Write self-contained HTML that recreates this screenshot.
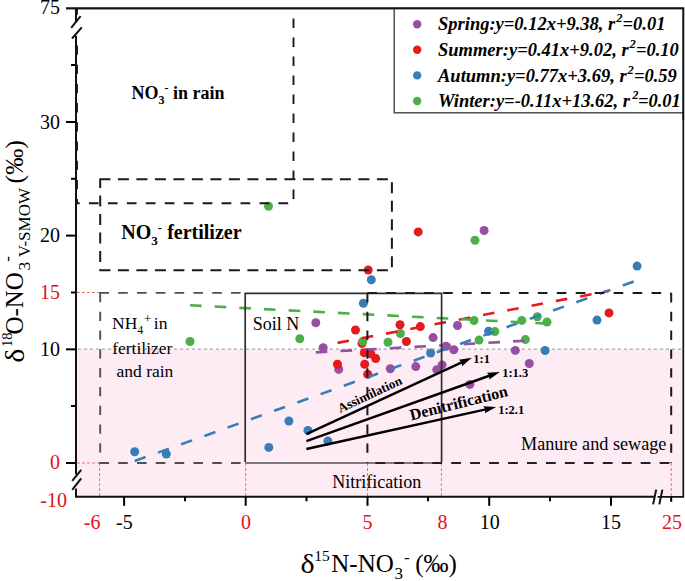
<!DOCTYPE html>
<html><head><meta charset="utf-8"><style>
html,body{margin:0;padding:0;background:#fff;}
svg{display:block;}
</style></head><body>
<svg width="685" height="581" viewBox="0 0 685 581">
<rect x="77" y="349.5" width="606" height="147" fill="#FDECF4"/>
<line x1="77" y1="349.1" x2="683" y2="349.1" stroke="#a8a8a8" stroke-width="1.3" stroke-dasharray="3.2 2.8" stroke-dashoffset="-0.8"/>
<line x1="77" y1="292.5" x2="100" y2="292.5" stroke="#F07070" stroke-width="1" stroke-dasharray="3 2"/>
<line x1="77" y1="463" x2="100" y2="463" stroke="#F07070" stroke-width="1" stroke-dasharray="3 2"/>
<line x1="99.6" y1="463" x2="99.6" y2="496" stroke="#F07070" stroke-width="1" stroke-dasharray="3 2"/>
<line x1="245.7" y1="463" x2="245.7" y2="496" stroke="#F07070" stroke-width="1" stroke-dasharray="3 2"/>
<line x1="367.5" y1="463" x2="367.5" y2="496" stroke="#F07070" stroke-width="1" stroke-dasharray="3 2"/>
<line x1="441.4" y1="463" x2="441.4" y2="496" stroke="#F07070" stroke-width="1" stroke-dasharray="3 2"/>
<line x1="671.2" y1="463" x2="671.2" y2="496" stroke="#F07070" stroke-width="1" stroke-dasharray="3 2"/>
<circle cx="315.8" cy="322.7" r="4.5" fill="#984EA3"/><circle cx="323.2" cy="347.7" r="4.5" fill="#984EA3"/><circle cx="338.7" cy="369.4" r="4.5" fill="#984EA3"/><circle cx="390.3" cy="368.8" r="4.5" fill="#984EA3"/><circle cx="415.8" cy="366.6" r="4.5" fill="#984EA3"/><circle cx="433.1" cy="337.6" r="4.5" fill="#984EA3"/><circle cx="436.8" cy="369.8" r="4.5" fill="#984EA3"/><circle cx="442.1" cy="364.9" r="4.5" fill="#984EA3"/><circle cx="446" cy="346.3" r="4.5" fill="#984EA3"/><circle cx="453.8" cy="349.8" r="4.5" fill="#984EA3"/><circle cx="457.5" cy="325.5" r="4.5" fill="#984EA3"/><circle cx="469.9" cy="384.4" r="4.5" fill="#984EA3"/><circle cx="484.1" cy="230.5" r="4.5" fill="#984EA3"/><circle cx="515.3" cy="350.4" r="4.5" fill="#984EA3"/><circle cx="529.3" cy="363.5" r="4.5" fill="#984EA3"/>
<circle cx="337.5" cy="364.2" r="4.5" fill="#E41A1C"/><circle cx="355.5" cy="330" r="4.5" fill="#E41A1C"/><circle cx="362" cy="343.4" r="4.5" fill="#E41A1C"/><circle cx="364.3" cy="352.8" r="4.5" fill="#E41A1C"/><circle cx="364.7" cy="364.3" r="4.5" fill="#E41A1C"/><circle cx="367.7" cy="374.2" r="4.5" fill="#E41A1C"/><circle cx="368.2" cy="270" r="4.5" fill="#E41A1C"/><circle cx="370.8" cy="353.8" r="4.5" fill="#E41A1C"/><circle cx="375.7" cy="358.6" r="4.5" fill="#E41A1C"/><circle cx="400" cy="324.7" r="4.5" fill="#E41A1C"/><circle cx="406.4" cy="341.5" r="4.5" fill="#E41A1C"/><circle cx="418.2" cy="231.9" r="4.5" fill="#E41A1C"/><circle cx="420.3" cy="326.6" r="4.5" fill="#E41A1C"/><circle cx="609" cy="312.9" r="4.5" fill="#E41A1C"/>
<circle cx="134.7" cy="451.8" r="4.5" fill="#377EB8"/><circle cx="166.3" cy="454" r="4.5" fill="#377EB8"/><circle cx="268.8" cy="447.4" r="4.5" fill="#377EB8"/><circle cx="288.9" cy="421" r="4.5" fill="#377EB8"/><circle cx="307.9" cy="430.4" r="4.5" fill="#377EB8"/><circle cx="327.9" cy="441.1" r="4.5" fill="#377EB8"/><circle cx="363.4" cy="303.2" r="4.5" fill="#377EB8"/><circle cx="371.3" cy="279.8" r="4.5" fill="#377EB8"/><circle cx="430.6" cy="353" r="4.5" fill="#377EB8"/><circle cx="488.6" cy="331.2" r="4.5" fill="#377EB8"/><circle cx="545.1" cy="350.5" r="4.5" fill="#377EB8"/><circle cx="597" cy="320.1" r="4.5" fill="#377EB8"/><circle cx="637.1" cy="266.1" r="4.5" fill="#377EB8"/>
<circle cx="190" cy="341.5" r="4.5" fill="#4DAF4A"/><circle cx="268.5" cy="206.3" r="4.5" fill="#4DAF4A"/><circle cx="299.8" cy="338.8" r="4.5" fill="#4DAF4A"/><circle cx="362.8" cy="341.2" r="4.5" fill="#4DAF4A"/><circle cx="388" cy="342.2" r="4.5" fill="#4DAF4A"/><circle cx="400.4" cy="333.5" r="4.5" fill="#4DAF4A"/><circle cx="474" cy="320.5" r="4.5" fill="#4DAF4A"/><circle cx="475" cy="240.3" r="4.5" fill="#4DAF4A"/><circle cx="479" cy="340.1" r="4.5" fill="#4DAF4A"/><circle cx="494.9" cy="331.6" r="4.5" fill="#4DAF4A"/><circle cx="521.8" cy="320.4" r="4.5" fill="#4DAF4A"/><circle cx="525.4" cy="339.6" r="4.5" fill="#4DAF4A"/><circle cx="537.3" cy="316.8" r="4.5" fill="#4DAF4A"/><circle cx="547" cy="322" r="4.5" fill="#4DAF4A"/>
<line x1="315.8" y1="352.4" x2="529.3" y2="340.5" stroke="#984EA3" stroke-width="2.6" stroke-dasharray="11.6 13.1"/>
<line x1="337.5" y1="342.9" x2="609.0" y2="290.9" stroke="#E41A1C" stroke-width="2.6" stroke-dasharray="11.6 13.1"/>
<line x1="134.7" y1="461.0" x2="637.1" y2="280.3" stroke="#377EB8" stroke-width="2.6" stroke-dasharray="11.6 13.1"/>
<line x1="190.0" y1="305.3" x2="547.0" y2="323.6" stroke="#4DAF4A" stroke-width="2.6" stroke-dasharray="11.6 13.1"/>
<line x1="77" y1="8.5" x2="77" y2="203.3" stroke="#1a1a1a" stroke-width="1.9" stroke-dasharray="9.3 9.9" stroke-dashoffset="1.4"/>
<line x1="76" y1="203.3" x2="293.5" y2="203.3" stroke="#1a1a1a" stroke-width="1.9" stroke-dasharray="9.7 9.25" stroke-dashoffset="6"/>
<line x1="293.5" y1="8.5" x2="293.5" y2="203.3" stroke="#1a1a1a" stroke-width="1.9" stroke-dasharray="9.7 9.3" stroke-dashoffset="9.1"/>
<line x1="99.4" y1="179.2" x2="392" y2="179.2" stroke="#1a1a1a" stroke-width="2" stroke-dasharray="11 7.5" stroke-dashoffset="0"/>
<line x1="99.4" y1="270.2" x2="392" y2="270.2" stroke="#1a1a1a" stroke-width="2" stroke-dasharray="11 7.5" stroke-dashoffset="0"/>
<line x1="100.2" y1="179.2" x2="100.2" y2="270.2" stroke="#1a1a1a" stroke-width="2" stroke-dasharray="11 7.5" stroke-dashoffset="2.3"/>
<line x1="391.9" y1="179.2" x2="391.9" y2="270.2" stroke="#1a1a1a" stroke-width="2" stroke-dasharray="11 7.5" stroke-dashoffset="15.4"/>
<line x1="99.4" y1="292.9" x2="245" y2="292.9" stroke="#505050" stroke-width="1.9" stroke-dasharray="9.6 9.2" stroke-dashoffset="0"/>
<line x1="99.4" y1="463" x2="245" y2="463" stroke="#505050" stroke-width="1.9" stroke-dasharray="9.6 9.2" stroke-dashoffset="0"/>
<line x1="100.2" y1="292.9" x2="100.2" y2="463" stroke="#505050" stroke-width="1.9" stroke-dasharray="9.3 9.5" stroke-dashoffset="0"/>
<path d="M245.2 462 V293.3 H441.6 V462" fill="none" stroke="#2e2e2e" stroke-width="1.7"/>
<line x1="245.2" y1="463" x2="441.6" y2="463" stroke="#555" stroke-width="1.7"/>
<line x1="367.3" y1="293" x2="671.2" y2="293" stroke="#1a1a1a" stroke-width="2" stroke-dasharray="9.6 9.35" stroke-dashoffset="0"/>
<line x1="367.3" y1="463" x2="671.2" y2="463" stroke="#222" stroke-width="2" stroke-dasharray="9.8 9.15" stroke-dashoffset="-8.1"/>
<line x1="367.4" y1="293" x2="367.4" y2="463" stroke="#1a1a1a" stroke-width="2" stroke-dasharray="9.4 9.4" stroke-dashoffset="0"/>
<line x1="671.2" y1="293" x2="671.2" y2="463" stroke="#1a1a1a" stroke-width="2" stroke-dasharray="9.4 9.4" stroke-dashoffset="0"/>
<line x1="306.4" y1="434.2" x2="462.3" y2="362.2" stroke="#000" stroke-width="2.4"/><polygon points="471.8,357.8 462.0,366.3 461.8,362.4 458.9,359.8" fill="#000"/>
<line x1="306.4" y1="441.2" x2="490.0" y2="375.5" stroke="#000" stroke-width="2.4"/><polygon points="499.9,372 489.3,379.6 489.5,375.7 486.9,372.8" fill="#000"/>
<line x1="306.4" y1="449" x2="485.9" y2="409.3" stroke="#000" stroke-width="2.4"/><polygon points="496.2,407 484.8,413.2 485.5,409.4 483.2,406.2" fill="#000"/>
<polygon points="66,28.8 80.6,11 90,11 90,27.3 72,44 66,44" fill="#fff"/>
<polygon points="66,481.8 77,468.3 77,478 66,491" fill="#fff"/>
<polygon points="654,499 656,494 662,494 660,499" fill="#fff"/>
<path d="M66 8.4 H683.3 V496.8 H657.5" fill="none" stroke="#111" stroke-width="1.7"/>
<path d="M654.7 496.8 H76 V488.5" fill="none" stroke="#111" stroke-width="2"/>
<path d="M76 474.5 V35.8" fill="none" stroke="#111" stroke-width="2"/>
<path d="M76 8.4 V22" fill="none" stroke="#111" stroke-width="2"/>
<line x1="71.2" y1="27.8" x2="80.6" y2="16.2" stroke="#111" stroke-width="2"/>
<line x1="72" y1="38.5" x2="81.8" y2="27.3" stroke="#111" stroke-width="2"/>
<line x1="72.2" y1="480.8" x2="81.2" y2="469.8" stroke="#111" stroke-width="2"/>
<line x1="72.2" y1="489.8" x2="81.2" y2="478.4" stroke="#111" stroke-width="2"/>
<line x1="653.1" y1="504.4" x2="656.2" y2="489.6" stroke="#111" stroke-width="2"/>
<line x1="659.3" y1="504.4" x2="662.4" y2="489.6" stroke="#111" stroke-width="2"/>
<line x1="66" y1="463" x2="76" y2="463" stroke="#000" stroke-width="2"/>
<line x1="66" y1="349.35" x2="76" y2="349.35" stroke="#000" stroke-width="2"/>
<line x1="66" y1="235.6" x2="76" y2="235.6" stroke="#000" stroke-width="2"/>
<line x1="66" y1="122" x2="76" y2="122" stroke="#000" stroke-width="2"/>
<line x1="71" y1="292.5" x2="76" y2="292.5" stroke="#000" stroke-width="2"/>
<line x1="71" y1="178.8" x2="76" y2="178.8" stroke="#000" stroke-width="2"/>
<line x1="71" y1="65" x2="76" y2="65" stroke="#000" stroke-width="2"/>
<line x1="71" y1="406" x2="76" y2="406" stroke="#000" stroke-width="2"/>
<line x1="124.1" y1="496.8" x2="124.1" y2="505.8" stroke="#000" stroke-width="2"/>
<line x1="245.7" y1="496.8" x2="245.7" y2="505.8" stroke="#000" stroke-width="2"/>
<line x1="367.5" y1="496.8" x2="367.5" y2="505.8" stroke="#000" stroke-width="2"/>
<line x1="489.2" y1="496.8" x2="489.2" y2="505.8" stroke="#000" stroke-width="2"/>
<line x1="611" y1="496.8" x2="611" y2="505.8" stroke="#000" stroke-width="2"/>
<line x1="185" y1="496.8" x2="185" y2="501.3" stroke="#000" stroke-width="2"/>
<line x1="306.5" y1="496.8" x2="306.5" y2="501.3" stroke="#000" stroke-width="2"/>
<line x1="428" y1="496.8" x2="428" y2="501.3" stroke="#000" stroke-width="2"/>
<line x1="550" y1="496.8" x2="550" y2="501.3" stroke="#000" stroke-width="2"/>
<line x1="671.2" y1="496.8" x2="671.2" y2="501.8" stroke="#000" stroke-width="2"/>
<text x="60" y="14.4" font-family="Liberation Serif, serif" font-size="20" text-anchor="end" fill="#000">75</text>
<text x="60" y="128.8" font-family="Liberation Serif, serif" font-size="20" text-anchor="end" fill="#000">30</text>
<text x="60" y="242.3" font-family="Liberation Serif, serif" font-size="20" text-anchor="end" fill="#000">20</text>
<text x="60" y="298.8" font-family="Liberation Serif, serif" font-size="20" text-anchor="end" fill="#E5101A">15</text>
<text x="60" y="356.1" font-family="Liberation Serif, serif" font-size="20" text-anchor="end" fill="#000">10</text>
<text x="60" y="469.3" font-family="Liberation Serif, serif" font-size="20" text-anchor="end" fill="#E5101A">0</text>
<text x="67" y="506.5" font-family="Liberation Serif, serif" font-size="20" text-anchor="end" fill="#E5101A">-10</text>
<text x="92.2" y="529.2" font-family="Liberation Serif, serif" font-size="20" text-anchor="middle" fill="#E5101A">-6</text>
<text x="124.4" y="529.2" font-family="Liberation Serif, serif" font-size="20" text-anchor="middle" fill="#000">-5</text>
<text x="245.9" y="529.2" font-family="Liberation Serif, serif" font-size="20" text-anchor="middle" fill="#E5101A">0</text>
<text x="367.6" y="529.2" font-family="Liberation Serif, serif" font-size="20" text-anchor="middle" fill="#E5101A">5</text>
<text x="442.5" y="529.2" font-family="Liberation Serif, serif" font-size="20" text-anchor="middle" fill="#E5101A">8</text>
<text x="489.8" y="529.2" font-family="Liberation Serif, serif" font-size="20" text-anchor="middle" fill="#000">10</text>
<text x="611" y="529.2" font-family="Liberation Serif, serif" font-size="20" text-anchor="middle" fill="#000">15</text>
<text x="672" y="529.2" font-family="Liberation Serif, serif" font-size="20" text-anchor="middle" fill="#E5101A">25</text>
<text x="131.5" y="98.6" font-family="Liberation Serif, serif" font-size="18" font-weight="bold">NO<tspan font-size="12" dy="5">3</tspan><tspan font-size="12" dy="-12">-</tspan><tspan dy="7" font-size="18"> in rain</tspan></text>
<text x="121.3" y="239.2" font-family="Liberation Serif, serif" font-size="20" font-weight="bold">NO<tspan font-size="13" dy="5.5">3</tspan><tspan font-size="13" dy="-13">-</tspan><tspan dy="7.5" font-size="20"> fertilizer</tspan></text>
<text x="112" y="329.3" font-family="Liberation Serif, serif" font-size="17.5">NH<tspan font-size="12" dy="5">4</tspan><tspan font-size="13.5" dx="0.5" dy="-11">+</tspan><tspan dx="-2" dy="6" font-size="17.5"> in</tspan></text>
<text x="112.2" y="354.3" font-family="Liberation Serif, serif" font-size="17.5">fertilizer</text>
<text x="116.5" y="376.6" font-family="Liberation Serif, serif" font-size="17.5">and rain</text>
<text x="252.8" y="329.5" font-family="Liberation Serif, serif" font-size="18">Soil N</text>
<text x="332.3" y="488" font-family="Liberation Serif, serif" font-size="18">Nitrification</text>
<text x="521" y="450.2" font-family="Liberation Serif, serif" font-size="18.2">Manure and sewage</text>
<text x="473.3" y="362.8" font-family="Liberation Serif, serif" font-weight="bold" font-size="12.5">1:1</text>
<text x="502.2" y="377.1" font-family="Liberation Serif, serif" font-weight="bold" font-size="12.5">1:1.3</text>
<text x="498.2" y="413.6" font-family="Liberation Serif, serif" font-weight="bold" font-size="12.5">1:2.1</text>
<text transform="translate(340.2,413) rotate(-25.1)" font-family="Liberation Serif, serif" font-weight="bold" font-size="13">Assimilation</text>
<text transform="translate(411.3,420.4) rotate(-14.1)" font-family="Liberation Serif, serif" font-weight="bold" font-size="16">Denitrification</text>
<rect x="394.2" y="8.5" width="289" height="104.3" fill="#fff" stroke="#444" stroke-width="1.4"/>
<circle cx="417.2" cy="24.2" r="4.2" fill="#984EA3"/>
<text x="438" y="30.4" font-family="Liberation Serif, serif" font-size="18.5" font-weight="bold" font-style="italic" xml:space="preserve">Spring:y=0.12x+9.38, r<tspan font-size="12.5" dx="0.8" dy="-8">2</tspan><tspan dx="0.2" dy="8">=0.01</tspan></text>
<circle cx="417.2" cy="49.8" r="4.2" fill="#E41A1C"/>
<text x="438" y="56.0" font-family="Liberation Serif, serif" font-size="18.5" font-weight="bold" font-style="italic" xml:space="preserve">Summer:y=0.41x+9.02, r<tspan font-size="12.5" dx="0.8" dy="-8">2</tspan><tspan dx="0.2" dy="8">=0.10</tspan></text>
<circle cx="417.2" cy="75.4" r="4.2" fill="#377EB8"/>
<text x="438" y="81.6" font-family="Liberation Serif, serif" font-size="18.5" font-weight="bold" font-style="italic" xml:space="preserve">Autumn:y=0.77x+3.69, r<tspan font-size="12.5" dx="0.8" dy="-8">2</tspan><tspan dx="0.2" dy="8">=0.59</tspan></text>
<circle cx="417.2" cy="101.0" r="4.2" fill="#4DAF4A"/>
<text x="438" y="107.2" font-family="Liberation Serif, serif" font-size="18.5" font-weight="bold" font-style="italic" xml:space="preserve">Winter:y=-0.11x+13.62, r<tspan font-size="12.5" dx="2.2" dy="-8">2</tspan><tspan dx="-0.6" dy="8">=0.01</tspan></text>
<line x1="66" y1="8.4" x2="684.1" y2="8.4" stroke="#111" stroke-width="1.7"/>
<line x1="683.3" y1="8.4" x2="683.3" y2="120" stroke="#111" stroke-width="1.7"/>
<text transform="translate(300.6,572.6) scale(1.2,1.06)" font-family="Liberation Serif, serif" font-size="25">δ</text>
<text font-family="Liberation Serif, serif" font-size="25" y="572.4"><tspan x="314.3" y="561.3" font-size="15.5">15</tspan><tspan x="331.3" y="572.4">N-NO</tspan><tspan x="394.6" y="579.2" font-size="17">3</tspan><tspan x="404" y="562.6" font-size="17">-</tspan><tspan x="415.3" y="572.4">(‰)</tspan></text>
<text transform="translate(24,362.8) rotate(-90) scale(1.2,1.06)" font-family="Liberation Serif, serif" font-size="25">δ</text>
<text transform="rotate(-90)" font-family="Liberation Serif, serif" font-size="25" y="22.6"><tspan x="-347" y="11.8" font-size="14.5">18</tspan><tspan x="-334.6" y="22.6">O-NO</tspan><tspan x="-270.6" y="30.3" font-size="17.5">3</tspan><tspan x="-261.7" y="12.8" font-size="17">-</tspan><tspan x="-257.3" y="30.3" font-size="17">V-SMOW</tspan><tspan x="-183.5" y="23" font-size="26">(‰)</tspan></text>
</svg>
</body></html>
